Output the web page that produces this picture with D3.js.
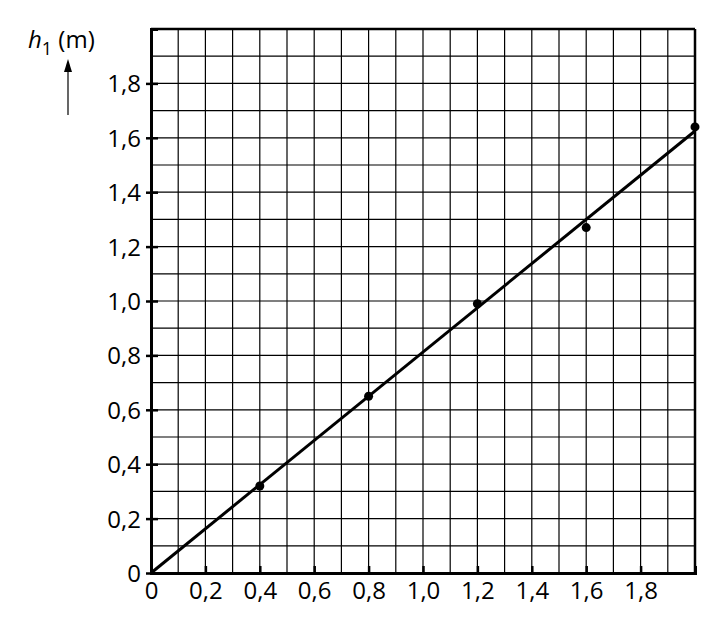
<!DOCTYPE html>
<html>
<head>
<meta charset="utf-8">
<script src="https://d3js.org/d3.v7.min.js"></script>
<style>
body { margin: 0; background: white; }
text { font-family: "Open Sans", "DejaVu Sans", sans-serif; fill: black; }
</style>
</head>
<body>
<svg id="chart" width="721" height="619"></svg>
<script>
// data
var xValues = [0.4, 0.8, 1.2, 1.6, 2.0];
var yValues = [0.32, 0.65, 0.99, 1.27, 1.64];
var fitLine = [[0, 0], [2.0, 1.625]];
var xTicks = [0, 0.2, 0.4, 0.6, 0.8, 1.0, 1.2, 1.4, 1.6, 1.8];
var yTicks = [0, 0.2, 0.4, 0.6, 0.8, 1.0, 1.2, 1.4, 1.6, 1.8];
var gridSteps = d3.range(0, 21).map(function(i) { return i / 10; });

var svg = d3.select("#chart");
var x = d3.scaleLinear().domain([0, 2]).range([151, 695]);
var y = d3.scaleLinear().domain([0, 2]).range([573, 29]);
var fmt = function(d) { return d3.format(d === 0 ? "d" : ".1f")(d).replace(".", ","); };

// grid
svg.append("g").selectAll("line").data(gridSteps).enter().append("line")
  .attr("x1", function(d) { return x(d); }).attr("x2", function(d) { return x(d); })
  .attr("y1", y(0)).attr("y2", y(2))
  .attr("stroke", "black").attr("stroke-width", 1.2);
svg.append("g").selectAll("line").data(gridSteps).enter().append("line")
  .attr("y1", function(d) { return y(d); }).attr("y2", function(d) { return y(d); })
  .attr("x1", x(0)).attr("x2", x(2))
  .attr("stroke", "black").attr("stroke-width", 1.2);

// frame
svg.append("line").attr("x1", x(0)).attr("x2", x(2)).attr("y1", y(2)).attr("y2", y(2))
  .attr("stroke", "black").attr("stroke-width", 2.5);
svg.append("line").attr("x1", x(2)).attr("x2", x(2)).attr("y1", y(0)).attr("y2", y(2))
  .attr("stroke", "black").attr("stroke-width", 2.5);

// axes
var gx = svg.append("g").attr("transform", "translate(0," + y(0) + ")")
  .call(d3.axisBottom(x).tickValues(xTicks).tickFormat(fmt).tickSize(-7).tickPadding(14));
var gy = svg.append("g").attr("transform", "translate(" + x(0) + ",0)")
  .call(d3.axisLeft(y).tickValues(yTicks).tickFormat(fmt).tickSize(-7).tickPadding(10));
[gx, gy].forEach(function(g) {
  g.select(".domain").attr("stroke-width", 3);
  g.selectAll(".tick line").attr("stroke-width", 2.5);
  g.selectAll("text").attr("font-size", null).style("font-size", "24px")
    .style("font-family", "'Open Sans', 'DejaVu Sans', sans-serif");
});
gy.selectAll(".tick line").attr("x1", -5).attr("x2", 7);
gx.selectAll(".tick line").attr("y1", 0).attr("y2", -7);
gx.selectAll(".tick text").attr("dy", "0.5em");
gy.selectAll(".tick text").attr("dy", "0.35em");

// fit line
svg.append("path").datum(fitLine)
  .attr("d", d3.line().x(function(d) { return x(d[0]); }).y(function(d) { return y(d[1]); }))
  .attr("stroke", "black").attr("stroke-width", 3).attr("fill", "none");

// points
svg.append("g").selectAll("circle").data(xValues).enter().append("circle")
  .attr("cx", function(d) { return x(d); })
  .attr("cy", function(d, i) { return y(yValues[i]); })
  .attr("r", 4.5).attr("fill", "black");

// y label with arrow
var lab = svg.append("text").attr("x", 28).attr("y", 48).style("font-size", "24px");
lab.append("tspan").text("h").style("font-style", "italic");
lab.append("tspan").text("1").attr("dy", 7).style("font-size", "18px");
lab.append("tspan").text(" (m)").attr("dy", -7);
svg.append("line").attr("x1", 68).attr("x2", 68).attr("y1", 115).attr("y2", 66)
  .attr("stroke", "black").attr("stroke-width", 1.2);
svg.append("path").attr("d", "M68,59 L64,72 L72,72 Z").attr("fill", "black");
</script>
</body>
</html>
